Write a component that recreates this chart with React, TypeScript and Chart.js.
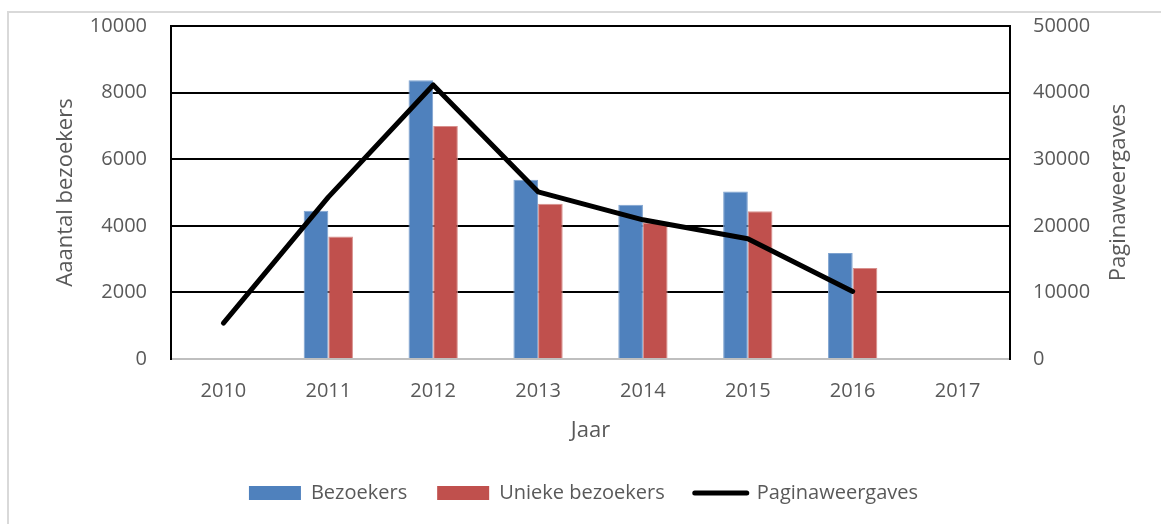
import React, { useEffect, useRef } from "react";
import { Chart, registerables } from "chart.js";

Chart.register(...registerables);

const years = ["2010", "2011", "2012", "2013", "2014", "2015", "2016", "2017"];
const bezoekers = [null, 4450, 8370, 5380, 4630, 5030, 3180, null];
const uniekeBezoekers = [null, 3680, 7000, 4660, 4100, 4440, 2730, null];
const paginaweergaves = [5400, 24300, 41150, 25100, 20900, 18050, 10140, null];

const leftTicksMax = 10000;
const leftStep = 2000;
const rightTicksMax = 50000;
const rightStep = 10000;

const TEXT = "#595959";
const FONT = '"Open Sans", "DejaVu Sans", sans-serif';

const rightTitlePlugin = {
  id: "rightTitle",
  afterDraw(chart: any) {
    const { ctx, chartArea } = chart;
    ctx.save();
    ctx.translate(1119, (chartArea.top + chartArea.bottom) / 2);
    ctx.rotate(-Math.PI / 2);
    ctx.font = `22px ${FONT}`;
    ctx.fillStyle = TEXT;
    ctx.textAlign = "center";
    ctx.textBaseline = "middle";
    ctx.fillText("Paginaweergaves", 0, 0);
    ctx.restore();
  },
};

const plain = (v: any) => String(v);

export default function App() {
  const ref = useRef<HTMLCanvasElement | null>(null);

  useEffect(() => {
    if (!ref.current) return;
    Chart.defaults.font.family = FONT;
    const chart = new Chart(ref.current, {
      type: "bar",
      data: {
        labels: years,
        datasets: [
          {
            type: "bar",
            label: "Bezoekers",
            data: bezoekers,
            backgroundColor: "#4F81BD",
            borderColor: "#7DA2CF",
            borderWidth: 1,
            yAxisID: "y",
            categoryPercentage: 0.47,
            barPercentage: 1,
            order: 1,
          },
          {
            type: "bar",
            label: "Unieke bezoekers",
            data: uniekeBezoekers,
            backgroundColor: "#C0504D",
            borderColor: "#D8908D",
            borderWidth: 1,
            yAxisID: "y",
            categoryPercentage: 0.47,
            barPercentage: 1,
            order: 1,
          },
          {
            type: "line",
            label: "Paginaweergaves",
            data: paginaweergaves,
            borderColor: "#000000",
            backgroundColor: "#000000",
            borderWidth: 5,
            borderCapStyle: "round",
            borderJoinStyle: "round",
            pointRadius: 0,
            tension: 0,
            yAxisID: "y1",
            order: 0,
          },
        ],
      } as any,
      options: {
        responsive: false,
        animation: false,
        devicePixelRatio: 1,
        layout: { padding: { left: 6, right: 0, top: 26, bottom: 11 } },
        plugins: {
          tooltip: { enabled: false },
          legend: {
            position: "bottom",
            labels: {
              color: TEXT,
              font: { size: 20 },
              usePointStyle: true,
              pointStyleWidth: 52,
              boxHeight: 14,
              padding: 30,
              generateLabels: (c: any) => {
                const items = (Chart.defaults.plugins.legend.labels as any).generateLabels(c);
                items.sort((a: any, b: any) => a.datasetIndex - b.datasetIndex);
                return items.map((it: any) => ({
                  ...it,
                  pointStyle: it.datasetIndex === 2 ? "line" : "rect",
                  lineWidth: it.datasetIndex === 2 ? 5 : 0,
                  lineCap: "round",
                }));
              },
            },
          },
        },
        scales: {
          x: {
            grid: { display: false },
            border: { display: true, color: "#BFBFBF", width: 2 },
            ticks: { color: TEXT, font: { size: 20 }, padding: 12 },
            title: {
              display: true,
              text: "Jaar",
              color: TEXT,
              font: { size: 22 },
              padding: { top: 0, bottom: 9 },
            },
            afterFit: (s: any) => {
              s.height = 94;
              s.paddingLeft = 0;
              s.paddingRight = 0;
            },
          },
          y: {
            position: "left",
            min: 0,
            max: leftTicksMax,
            ticks: { stepSize: leftStep, color: TEXT, font: { size: 20 }, padding: 24, callback: plain },
            grid: {
              color: (ctx: any) => (ctx.tick && ctx.tick.value === 0 ? "rgba(0,0,0,0)" : "#000000"),
              lineWidth: 2,
              drawTicks: false,
            },
            border: { display: true, color: "#000000", width: 2 },
            title: {
              display: true,
              text: "Aaantal bezoekers",
              color: TEXT,
              font: { size: 22 },
              padding: { top: 47, bottom: 0 },
            },
            afterFit: (s: any) => {
              s.width = 165;
              s.paddingTop = 0;
              s.paddingBottom = 0;
            },
          },
          y1: {
            position: "right",
            min: 0,
            max: rightTicksMax,
            ticks: { stepSize: rightStep, color: TEXT, font: { size: 20 }, padding: 23, callback: plain },
            grid: { display: false, drawTicks: false },
            border: { display: true, color: "#000000", width: 2 },
            afterFit: (s: any) => {
              s.width = 151;
              s.paddingTop = 0;
              s.paddingBottom = 0;
            },
          },
        },
      } as any,
      plugins: [rightTitlePlugin],
    });
    return () => chart.destroy();
  }, []);

  return (
    <div
      style={{
        position: "absolute",
        left: 0,
        top: 0,
        width: 1161,
        height: 524,
        overflow: "hidden",
        background: "#ffffff",
      }}
    >
      <div
        style={{
          position: "absolute",
          left: 7,
          top: 11,
          width: 1200,
          height: 600,
          borderLeft: "2px solid #D9D9D9",
          borderTop: "2px solid #D9D9D9",
        }}
      />
      <canvas
        ref={ref}
        width={1161}
        height={524}
        style={{ position: "absolute", left: 0, top: 0, width: 1161, height: 524 }}
      />
    </div>
  );
}
